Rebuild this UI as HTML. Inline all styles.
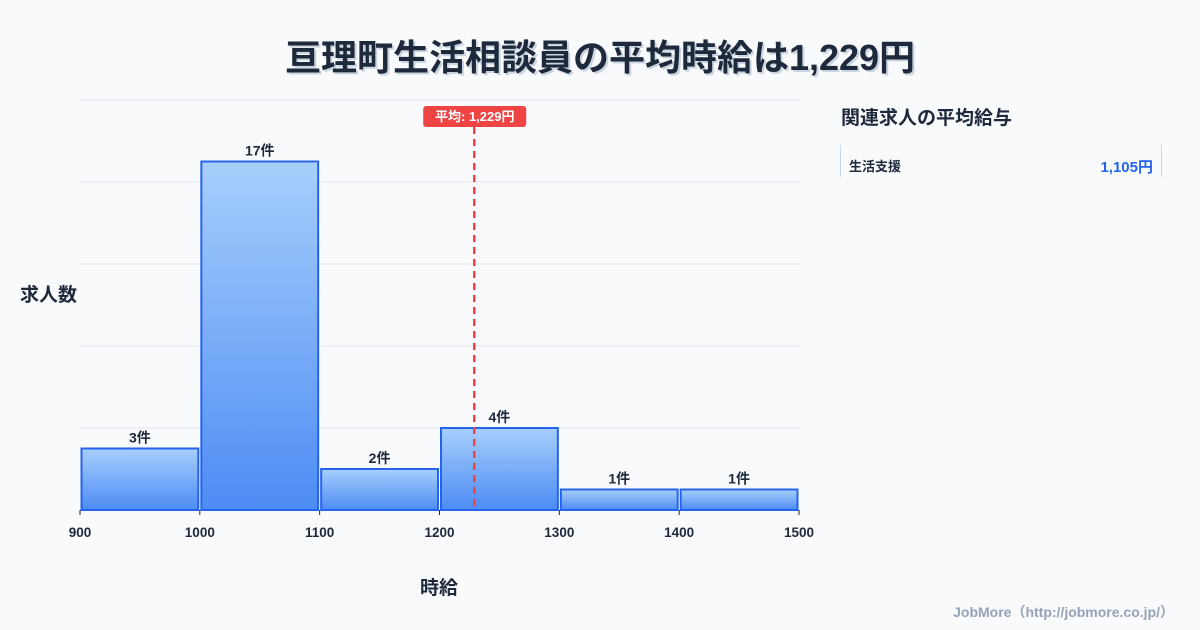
<!DOCTYPE html>
<html><head><meta charset="utf-8"><style>
body{margin:0;width:1200px;height:630px;background:#f8fafc;font-family:"Liberation Sans","Noto Sans CJK JP",sans-serif;overflow:hidden;position:relative}
.t{position:absolute;white-space:nowrap}
</style></head><body>
<div class="t" style="left:0;width:1200px;text-align:center;top:29px;font-size:36px;font-weight:bold;color:#1e293b;text-shadow:2px 2px 0 #cbd5e1">亘理町生活相談員の平均時給は1,229円</div>
<div class="t" style="left:20px;top:280px;font-size:19px;font-weight:bold;color:#1e293b">求人数</div>
<div class="t" style="left:420px;top:573px;font-size:19px;font-weight:bold;color:#1e293b">時給</div>
<div class="t" style="left:841px;top:103px;font-size:19px;font-weight:bold;color:#1e293b">関連求人の平均給与</div>
<div style="position:absolute;left:840px;top:145px;width:320px;height:32px;border-left:1px solid #cbd5e1;border-right:1px solid #cbd5e1">
<span class="t" style="left:8px;top:11px;font-size:13px;font-weight:bold;color:#1e293b">生活支援</span>
<span class="t" style="right:8px;top:11px;font-size:15px;font-weight:bold;color:#2563eb">1,105円</span></div>
<div class="t" style="right:26px;top:602px;font-size:14px;font-weight:bold;color:#94a3b8">JobMore（http://jobmore.co.jp/）</div>
<svg id="c" width="1200" height="630" style="position:absolute;left:0;top:0" font-family="Liberation Sans, Noto Sans CJK JP, sans-serif">
<defs><linearGradient id="g" x1="0" y1="0" x2="0" y2="1"><stop offset="0" stop-color="#a7cffc"/><stop offset="1" stop-color="#4d8cf4"/></linearGradient></defs>
</svg>
<script>
const binStarts=[900,1000,1100,1200,1300,1400];
const counts=[3,17,2,4,1,1];
const xTicks=[900,1000,1100,1200,1300,1400,1500];
const yGrid=[0,4,8,12,16,20];
const avg=1229;
const svg=document.getElementById('c');const NS='http://www.w3.org/2000/svg';
const X=v=>80+(v-900)*(719/600);const Y=v=>510-v*20.5;
function mk(t,a,p){const e=document.createElementNS(NS,t);for(const k in a)e.setAttribute(k,a[k]);(p||svg).appendChild(e);return e;}
yGrid.forEach(v=>{const l=mk('line',{x1:80,x2:800,y1:Y(v),y2:Y(v),stroke:'#e2e8f0','stroke-width':1});

});
binStarts.forEach((b,i)=>{const x0=X(b)+1.5,x1=X(b+100)-1.5;
const r=mk('rect',{x:x0,y:Y(counts[i]),width:x1-x0,height:Y(0)-Y(counts[i]),fill:'url(#g)',stroke:'#2563eb','stroke-width':2});


const t=mk('text',{x:(x0+x1)/2,y:Y(counts[i])-6,'text-anchor':'middle','font-size':14,'font-weight':'bold',fill:'#1e293b'});t.textContent=counts[i]+'件';

});
xTicks.forEach(v=>{mk('line',{x1:X(v),x2:X(v),y1:510,y2:515,stroke:'#1e293b','stroke-width':1});
const t=mk('text',{x:X(v),y:537,'text-anchor':'middle','font-size':13.5,'font-weight':'bold',fill:'#1e293b'});t.textContent=v;

});
const ax=X(avg);
const al=mk('line',{x1:ax,x2:ax,y1:127,y2:510,stroke:'#ef4444','stroke-width':2.5,'stroke-dasharray':'7,5'});


const ab=mk('rect',{x:ax-51,y:106,width:103,height:21,rx:3,fill:'#ef4444'});


const at=mk('text',{x:ax+0.5,y:121,'text-anchor':'middle','font-size':13,'font-weight':'bold',fill:'#fff'});at.textContent='平均: 1,229円';


</script>
</body></html>
